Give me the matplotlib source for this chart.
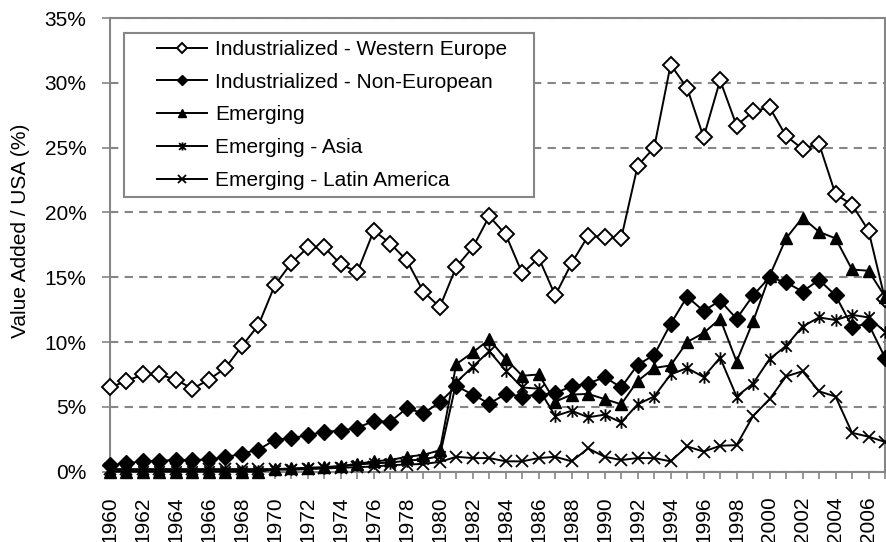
import numpy as np
import matplotlib
matplotlib.use("Agg")
import matplotlib.pyplot as plt
from matplotlib.path import Path
from matplotlib.patches import Rectangle
from matplotlib.ticker import MultipleLocator, FuncFormatter

plt.rcParams['font.family'] = ['Liberation Sans', 'DejaVu Sans']

years = list(range(1960, 2008))

west_europe = [6.5, 7.0, 7.5, 7.5, 7.1, 6.4, 7.1, 8.0, 9.7, 11.3,
               14.4, 16.1, 17.3, 17.3, 16.0, 15.4, 18.6, 17.6, 16.3, 13.9,
               12.7, 15.8, 17.3, 19.7, 18.3, 15.3, 16.5, 13.6, 16.1, 18.2,
               18.1, 18.0, 23.6, 25.0, 31.4, 29.6, 25.8, 30.2, 26.7, 27.8,
               28.1, 25.9, 24.9, 25.3, 21.4, 20.6, 18.6, 13.3]
non_european = [0.5, 0.65, 0.8, 0.85, 0.9, 0.9, 0.95, 1.1, 1.4, 1.7,
                2.45, 2.6, 2.8, 3.1, 3.15, 3.4, 3.9, 3.85, 4.9, 4.5,
                5.35, 6.6, 5.95, 5.25, 6.0, 5.8, 5.95, 6.05, 6.6, 6.8,
                7.3, 6.5, 8.25, 9.0, 11.4, 13.5, 12.4, 13.2, 11.8, 13.6,
                15.0, 14.6, 13.9, 14.8, 13.6, 11.2, 11.4, 8.8]
emerging = [0.0, 0.0, 0.0, 0.0, 0.0, 0.0, 0.0, 0.0, 0.0, 0.0,
            0.2, 0.25, 0.3, 0.35, 0.45, 0.6, 0.8, 0.9, 1.15, 1.3,
            1.65, 8.3, 9.2, 10.2, 8.7, 7.4, 7.5, 5.4, 5.95, 6.0,
            5.6, 5.2, 7.0, 8.0, 8.2, 10.0, 10.7, 11.8, 8.5, 11.6,
            15.1, 18.0, 19.6, 18.5, 18.0, 15.6, 15.5, 13.5]
emerging_asia = [0.05, 0.05, 0.05, 0.05, 0.05, 0.05, 0.05, 0.05, 0.05, 0.05,
                 0.15, 0.2, 0.3, 0.3, 0.4, 0.55, 0.65, 0.7, 0.85, 0.95,
                 1.2, 6.9, 8.1, 9.3, 7.8, 6.5, 6.4, 4.3, 4.7, 4.2,
                 4.4, 3.8, 5.2, 5.8, 7.5, 8.0, 7.3, 8.8, 5.8, 6.8,
                 8.7, 9.7, 11.2, 11.9, 11.7, 12.1, 11.9, 10.8]
emerging_latam = [0.2, 0.2, 0.2, 0.2, 0.2, 0.2, 0.2, 0.2, 0.2, 0.2,
                  0.2, 0.15, 0.2, 0.25, 0.3, 0.35, 0.4, 0.5, 0.55, 0.6,
                  0.75, 1.15, 1.05, 1.05, 0.8, 0.8, 1.05, 1.15, 0.8, 1.8,
                  1.15, 0.9, 1.05, 1.05, 0.8, 1.95, 1.55, 2.0, 2.05, 4.3,
                  5.6, 7.35, 7.75, 6.2, 5.8, 3.0, 2.7, 2.3]

labels = ['Industrialized - Western Europe', 'Industrialized - Non-European',
          'Emerging', 'Emerging - Asia', 'Emerging - Latin America']

# excel style star marker: an x with a vertical bar
star = Path([(-1, -1), (1, 1), (-1, 1), (1, -1), (0, -1.2), (0, 1.2)],
            [Path.MOVETO, Path.LINETO, Path.MOVETO, Path.LINETO, Path.MOVETO, Path.LINETO])

fig = plt.figure(figsize=(8.86, 5.42), dpi=100)
ax = fig.add_axes([110 / 886, 1 - 471.7 / 542, 775 / 886, 453.7 / 542])

grey = '#868686'
lw = 1.4
kw = dict(color='black', lw=lw, clip_on=False, zorder=3)
ax.plot(years, west_europe, marker='D', ms=8.5, mfc='white', mec='black', mew=1.4,
        label=labels[0], **kw)
ax.plot(years, non_european, marker='D', ms=8.5, mfc='black', mec='black',
        label=labels[1], **kw)
ax.plot(years, emerging, marker='^', ms=9, mfc='black', mec='black',
        label=labels[2], **kw)
ax.plot(years, emerging_asia, marker=star, ms=9, mfc='none', mec='black', mew=1.3,
        label=labels[3], **kw)
ax.plot(years, emerging_latam, marker='x', ms=9, mec='black', mew=1.3,
        label=labels[4], **kw)

ax.set_xlim(1960, 2007)
ax.set_ylim(0, 35)
ax.yaxis.set_major_locator(MultipleLocator(5))
ax.yaxis.set_major_formatter(FuncFormatter(lambda v, p: f"{int(round(v))}%"))
ax.xaxis.set_major_locator(MultipleLocator(2))
ax.xaxis.set_minor_locator(MultipleLocator(1))
ax.tick_params(axis='x', which='both', length=5, color=grey, width=1.2,
               labelsize=15, labelrotation=90, pad=13)
ax.tick_params(axis='y', length=6, color=grey, width=1.2, labelsize=15, pad=11)

ax.grid(axis='y', color=grey, ls=(0, (4, 3)), lw=1.5, zorder=0)
for s in ['left', 'bottom', 'right', 'top']:
    ax.spines[s].set_color(grey)
    ax.spines[s].set_linewidth(1.5)

fig.text(21 / 886, 1 - 231 / 542, 'Value Added / USA (%)', rotation=90,
         ha='center', va='center', fontsize=15)

# legend box drawn separately so the handles can sit further in from the edge
box = Rectangle((124 / 886, 1 - 197 / 542), 410 / 886, 164 / 542,
                transform=fig.transFigure, facecolor='white',
                edgecolor=grey, lw=1.5, zorder=4, clip_on=False)
ax.add_patch(box)
leg = ax.legend(loc='upper left', bbox_to_anchor=(157 / 886, 1 - 40 / 542),
                bbox_transform=fig.transFigure, frameon=False, fontsize=15,
                borderpad=0, borderaxespad=0, handlelength=2.4,
                handletextpad=0.4, labelspacing=0.66, markerscale=0.65)
leg.set_zorder(5)

fig.savefig('out.png', dpi=100)
